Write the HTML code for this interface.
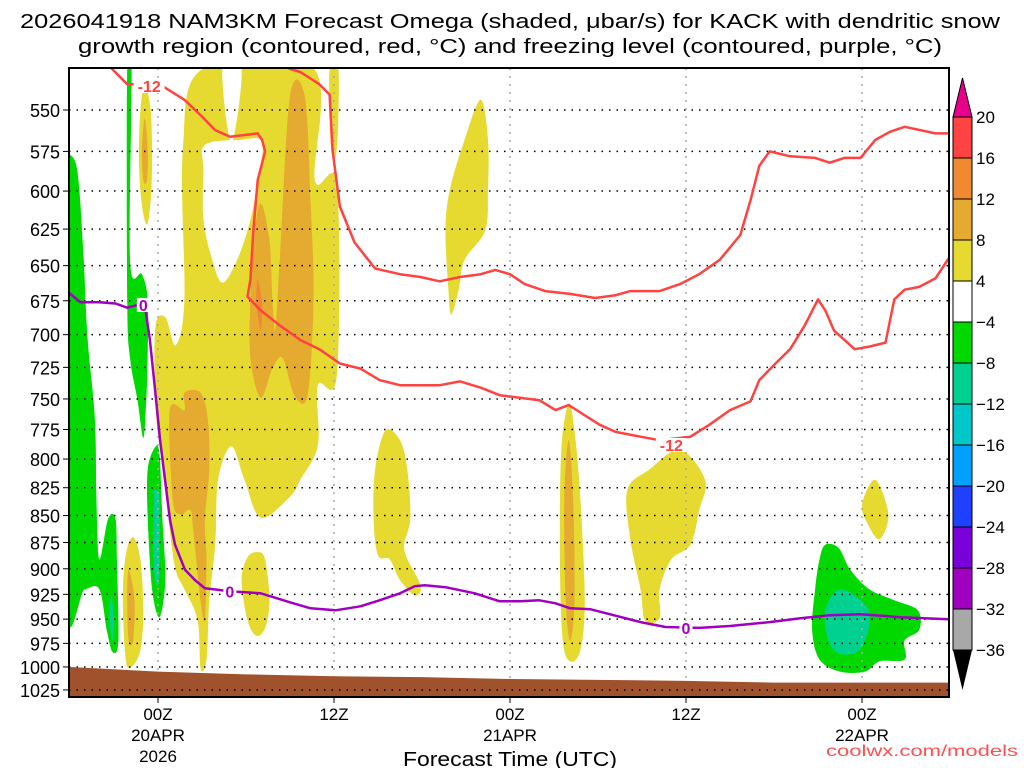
<!DOCTYPE html>
<html><head><meta charset="utf-8"><style>
html,body{margin:0;padding:0;background:#fff;}
svg{display:block;font-family:"Liberation Sans",sans-serif;}
</style></head><body>
<svg id="chart" width="1024" height="768" viewBox="0 0 1024 768" xmlns="http://www.w3.org/2000/svg">
<text x="20" y="28" font-size="20" textLength="980" lengthAdjust="spacingAndGlyphs">2026041918 NAM3KM Forecast Omega (shaded, μbar/s) for KACK with dendritic snow</text>
<text x="78" y="53" font-size="20" textLength="864" lengthAdjust="spacingAndGlyphs">growth region (contoured, red, °C) and freezing level (contoured, purple, °C)</text>
<defs><clipPath id="plotclip"><rect x="69" y="68" width="880" height="629"/></clipPath></defs>
<g id="shading" clip-path="url(#plotclip)"></g>
<g id="grid"></g>
<g id="terrain" clip-path="url(#plotclip)"></g>
<g id="contours" clip-path="url(#plotclip)"></g>
<rect x="69" y="68" width="880" height="629" fill="none" stroke="#000" stroke-width="2"/>
<g id="axes"></g>
<g id="colorbar"></g>
<text x="510" y="766" font-size="20" text-anchor="middle" textLength="214" lengthAdjust="spacingAndGlyphs">Forecast Time (UTC)</text>
<text x="1018" y="756" font-size="16" fill="#ff5050" text-anchor="end" textLength="192" lengthAdjust="spacingAndGlyphs">coolwx.com/models</text>
</svg>
<script>
// ---- data ----
const pressureTicks = [550,575,600,625,650,675,700,725,750,775,800,825,850,875,900,925,950,975,1000,1025];
const timeTickHours = [0,12,24,36,48];
const timeTickLine1 = ["00Z","12Z","00Z","12Z","00Z"];
const timeTickLine2 = ["20APR","","21APR","","22APR"];
const timeTickLine3 = ["2026","","","",""];
const colorbarLabels = ["20","16","12","8","4","-4","-8","-12","-16","-20","-24","-28","-32","-36"];
const levelColors = ["#ff4242","#f08a30","#e5aa30","#e6da30","#ffffff","#00d800","#00d090","#00c8c8","#00a0ff","#2040ff","#7800d8","#a000c0","#a8a8a8"];
const terrainHours = [-6,0,6,12,18,24,30,36,42,48,54];
const terrainPressure = [1000,1005,1008,1010,1011,1013,1014,1015,1017,1017,1017];
const freezingHours = [-6.1,-5.3,-4.0,-2.9,-2.1,-1.4,-0.9,-0.55,-0.2,0.14,0.48,0.82,1.16,1.84,2.52,3.2,4.9,7.0,9.0,10.4,12.1,13.8,15.1,16.5,17.5,18.2,19.6,21.6,23.3,24.7,26.0,27.1,28.1,29.5,30.8,32.9,34.6,36.9,39.0,41.7,43.8,45.8,47.9,50.6,53.9];
const freezingPressure = [669,676,676,677,680,678,678,704,743,784,818,854,877,901,911,919,922,924,933,939,941,937,931,924,917,916,918,924,932,932,931,934,939,940,945,953,958,959,957,953,949,946,945,948,950];
const dgzLowerHours = [-3.4,-2.1,0.1,1.8,2.9,3.9,4.9,6.8,7.1,7.3,6.8,6.5,6.3,6.1,7.0,8.3,9.7,11.0,12.4,13.8,15.1,16.5,19.2,20.6,22.0,23.3,26.0,27.1,28.0,28.8,30.1,31.2,32.9,34.2,36.3,37.6,39.0,40.4,41.0,42.1,43.1,44.1,45.0,45.5,46.1,47.5,48.5,49.6,50.2,50.9,51.9,53.0,53.9];
const dgzLowerPressure = [524,535,535,544,553,562,566,564,568,575,593,626,660,672,682,693,704,711,722,726,735,739,739,736,741,747,751,759,755,761,771,777,781,784,781,771,759,752,735,722,711,693,674,682,697,711,709,706,674,667,665,659,645];
const dgzUpperHours = [8.9,9.7,11.0,11.7,11.9,12.4,13.4,14.8,16.5,17.9,19.2,20.6,22.0,23.0,24.0,25.0,26.4,28.1,29.8,31.2,32.2,34.2,35.6,36.9,38.3,39.7,40.4,41.0,41.7,43.1,44.8,45.8,46.8,47.9,48.9,49.9,50.9,53.0,53.9];
const dgzUpperPressure = [526,528,535,541,574,610,634,652,656,658,661,658,656,653,656,663,668,670,673,671,668,668,663,656,646,629,606,584,575,578,579,582,579,579,568,563,560,564,564];
const contourLabelText = ["-12","-12","0","0","0"];
const contourLabelHours = [-0.6,35.0,-1.0,4.9,36.0];
const contourLabelPressure = [536,788,678,922,959];
const contourLabelColor = ["#ff4242","#ff4242","#a000c0","#a000c0","#a000c0"];
// shaded omega regions: level index into levelColors, hours, pressures
const blobLevels = [3,4,4,3,2,1,2,3,2,3,3,3,3,2,3,3,3,5,6,5,5,6,5,6,4];
const blobHours = [
 [3.1,10.6,10.7,12.2,12.2,10.9,10.9,9.7,9.0,7.0,5.9,5.0,4.1,3.9,3.5,3.3,2.9,2.7,1.8,1.2,0.8,0.5,-0.1,-0.2,0.5,1.2,1.8,1.7],
 [4.4,5.7,5.0],
 [3.2,5.6,7.1,6.8,6.3,5.4,4.4,3.7,3.1,3.1],
 [11.7,12.3,12.2,11.8],
 [7.0,7.6,7.8,8.0,8.3,9.0,10.0,10.4,10.6,10.2,9.3,8.5,7.8,7.0,6.3,6.3,6.5],
 [6.8,7.1,7.0,6.7],
 [1.8,2.9,3.4,3.5,3.2,3.3,3.2,2.9,2.4,2.2,1.5,1.0,0.8,1.8],
 [-0.9,-0.5,-0.4,-0.5,-0.75,-1.1,-1.3,-1.2],
 [-0.9,-0.7,-0.75,-1.0,-1.1],
 [-1.7,-1.2,-1.0,-1.2,-1.8,-2.2,-2.4,-2.2],
 [6.8,7.3,7.6,7.3,6.7,6.1,5.7,6.1],
 [22.0,22.5,22.5,22.3,20.9,20.5,20.0,19.8,19.6,19.9,20.9],
 [15.5,16.5,17.0,17.2,16.8,17.9,17.5,16.5,15.8,15.0,14.7,14.8],
 [-2.0,-1.6,-1.7,-2.0,-2.1],
 [28.0,28.4,28.8,29.1,28.8,28.1,27.6,27.4,27.5],
 [35.6,37.3,36.9,36.3,35.0,34.2,34.2,33.2,32.9,32.2,32.0,33.5],
 [48.9,49.8,49.2,48.4,48.0],
 [-6.3,-6.1,-5.5,-5.1,-4.8,-4.3,-4.2,-4.0,-3.4,-2.9,-2.8,-2.7,-3.1,-3.5,-4.0,-5.0,-6.3],
 [-3.2,-3.0,-3.1,-3.3],
 [-2.1,-1.8,-1.9,-1.1,-0.7,-0.7,-0.8,-1.0,-1.4,-1.9,-2.1],
 [-0.2,0.1,0.3,0.5,0.1,-0.4,-0.7,-0.7],
 [-0.2,0.1,0.1,-0.1,-0.3,-0.3],
 [45.5,46.4,47.2,48.5,50.2,51.8,51.9,50.9,50.9,49.2,48.2,46.5,45.1,44.6,44.8,45.1],
 [46.5,48.2,48.5,47.8,46.5,45.7,45.5],
 [35.0,36.8,36.8,35.0]
];
const blobPressure = [
 [526,526,593,596,731,739,788,818,833,852,818,789,818,877,931,993,1001,951,920,901,863,818,767,696,687,708,674,573],
 [526,526,570],
 [571,568,569,593,619,646,662,646,619,587],
 [526,526,573,573],
 [608,633,674,696,646,542,542,606,674,747,747,718,726,749,718,674,633],
 [660,677,696,677],
 [745,745,767,809,853,891,951,931,863,845,849,835,759,759],
 [536,550,581,606,622,609,581,550],
 [555,574,593,593,574],
 [870,891,941,982,1000,992,931,887],
 [884,891,931,959,967,951,911,889],
 [544,568,599,626,646,667,685,667,626,599,568],
 [776,784,809,853,882,916,926,911,891,887,853,809],
 [901,931,972,972,931],
 [754,776,835,931,982,994,972,891,792],
 [792,818,845,877,891,920,949,951,920,872,827,809],
 [818,849,872,858,840],
 [573,576,587,639,703,767,835,891,853,853,891,972,984,961,920,920,927],
 [926,951,972,951],
 [526,526,647,656,674,714,751,782,751,718,674],
 [790,796,853,911,948,920,853,809],
 [827,835,901,916,891,835],
 [877,880,901,920,931,941,961,972,992,994,1005,1005,992,961,920,891],
 [920,935,956,982,986,972,941],
 [992,992,1001,1001]
];
const goldCoreHours = [28.0,28.3,28.4,28.1,27.8,27.7];
const goldCorePressure = [784,835,931,972,931,835];

// ---- scales ----
const X = h => 158 + h*14.667;
const Y = p => 110 + 931.6*Math.log(p/550);
const NS = "http://www.w3.org/2000/svg";
function mk(tag, attrs, parent){const e=document.createElementNS(NS,tag);for(const k in attrs)e.setAttribute(k,attrs[k]);parent.appendChild(e);return e;}
function smoothClosed(pts){
  const n=pts.length; let d=`M${pts[0][0].toFixed(1)},${pts[0][1].toFixed(1)}`;
  for(let i=0;i<n;i++){const p0=pts[(i-1+n)%n],p1=pts[i],p2=pts[(i+1)%n],p3=pts[(i+2)%n];
    const c1=[p1[0]+(p2[0]-p0[0])/6,p1[1]+(p2[1]-p0[1])/6],c2=[p2[0]-(p3[0]-p1[0])/6,p2[1]-(p3[1]-p1[1])/6];
    d+=`C${c1[0].toFixed(1)},${c1[1].toFixed(1)} ${c2[0].toFixed(1)},${c2[1].toFixed(1)} ${p2[0].toFixed(1)},${p2[1].toFixed(1)}`;}
  return d+"Z";
}
const shading=document.getElementById('shading');
blobLevels.forEach((lv,i)=>{
  const pts=blobHours[i].map((h,j)=>[X(h),Y(blobPressure[i][j])]);
  const el=mk('path',{d:smoothClosed(pts),fill:levelColors[lv]},shading);
  
  
});
{
  const el=mk('path',{d:smoothClosed(goldCoreHours.map((h,j)=>[X(h),Y(goldCorePressure[j])])),fill:levelColors[2]},shading);
  
  
}
// grid
const grid=document.getElementById('grid');
pressureTicks.forEach(p=>{
  const el=mk('line',{x1:69,x2:949,y1:Y(p),y2:Y(p),stroke:'#000','stroke-width':1.5,'stroke-dasharray':'1.5 6'},grid);
  
  
});
timeTickHours.forEach(h=>{
  const el=mk('line',{x1:X(h),x2:X(h),y1:68,y2:697,stroke:'#aaa','stroke-width':1.5,'stroke-dasharray':'2 6'},grid);
  
  
});
// terrain
{
  let d=`M${X(terrainHours[0])},700`;
  terrainHours.forEach((h,i)=>{d+=`L${X(h)},${Y(terrainPressure[i])}`;});
  d+=`L${X(terrainHours[terrainHours.length-1])},700Z`;
  const el=mk('path',{d:d,fill:'#a0522d'},document.getElementById('terrain'));
  
  
  pressureTicks.slice(-1).forEach(p=>{
    const l=mk('line',{x1:69,x2:949,y1:Y(p),y2:Y(p),stroke:'#000','stroke-width':1.5,'stroke-dasharray':'1.5 6'},document.getElementById('terrain'));
    
    
  });
}
// contours
const cg=document.getElementById('contours');
function line(hs,ps,color,name){
  const d=hs.map((h,i)=>(i?'L':'M')+X(h).toFixed(1)+','+Y(ps[i]).toFixed(1)).join('');
  const el=mk('path',{d:d,fill:'none',stroke:color,'stroke-width':2.5,'stroke-linejoin':'round'},cg);
  
  
}
line(dgzLowerHours,dgzLowerPressure,'#ff4242','dgz-contour-lower');
line(dgzUpperHours,dgzUpperPressure,'#ff4242','dgz-contour-upper');
line(freezingHours,freezingPressure,'#a000c0','freezing-level-line');
contourLabelText.forEach((t,i)=>{
  const x=X(contourLabelHours[i]),y=Y(contourLabelPressure[i]);
  const w=t.length*9+4;
  const r=mk('rect',{x:x-w/2,y:y-7,width:w,height:14,fill:'#fff'},cg);
  
  
  const el=mk('text',{x:x,y:y+6,'font-size':16,'font-weight':'bold',fill:contourLabelColor[i],'text-anchor':'middle'},cg);
  el.textContent=t;
  
  
});
// axes
const ax=document.getElementById('axes');
pressureTicks.forEach(p=>{
  const t=mk('line',{x1:63,x2:69,y1:Y(p),y2:Y(p),stroke:'#000','stroke-width':1},ax);
  
  
  const el=mk('text',{x:60,y:Y(p)+7,'font-size':18,'text-anchor':'end'},ax);
  el.textContent=p;
  
  
});
timeTickHours.forEach((h,i)=>{
  const t=mk('line',{x1:X(h),x2:X(h),y1:697,y2:703,stroke:'#000','stroke-width':1},ax);
  
  
  [timeTickLine1[i],timeTickLine2[i],timeTickLine3[i]].forEach((s,k)=>{
    if(!s)return;
    const el=mk('text',{x:X(h),y:720+k*21,'font-size':17,'text-anchor':'middle'},ax);
    el.textContent=s;
    
    
  });
});
// colorbar
const cb=document.getElementById('colorbar');
const cbTop=117, cbStep=41, cbX=953, cbW=19;
{
  const el=mk('path',{d:`M${cbX},${cbTop}L${cbX+cbW/2},78L${cbX+cbW},${cbTop}Z`,fill:'#e8008a',stroke:'#000','stroke-width':1},cb);
  
  
}
levelColors.forEach((c,i)=>{
  const el=mk('rect',{x:cbX,y:cbTop+i*cbStep,width:cbW,height:cbStep,fill:c,stroke:'#000','stroke-width':1},cb);
  
  
});
{
  const yb=cbTop+levelColors.length*cbStep;
  const el=mk('path',{d:`M${cbX},${yb}L${cbX+cbW/2},${yb+40}L${cbX+cbW},${yb}Z`,fill:'#000'},cb);
  
  
}
colorbarLabels.forEach((t,i)=>{
  const el=mk('text',{x:976,y:cbTop+i*cbStep+6,'font-size':17},cb);
  el.textContent=t.replace('-','−');
  
  
});
</script>
</body></html>
